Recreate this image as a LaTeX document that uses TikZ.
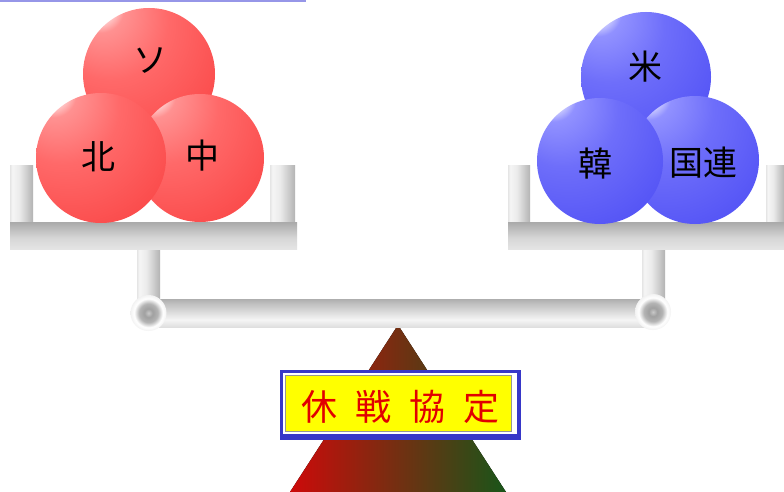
\documentclass[tikz,border=0pt]{standalone}
\usepackage{fontspec}
\newfontfamily\jp{Noto Sans CJK JP}

% greys for the metal parts
\definecolor{g110}{RGB}{110,110,110}
\definecolor{g120}{RGB}{120,120,120}
\definecolor{g130}{RGB}{130,130,130}
\definecolor{g140}{RGB}{140,140,140}
\definecolor{g150}{RGB}{150,150,150}
\definecolor{g160}{RGB}{160,160,160}
\definecolor{g170}{RGB}{170,170,170}
\definecolor{g180}{RGB}{180,180,180}
\definecolor{g190}{RGB}{190,190,190}
\definecolor{g200}{RGB}{200,200,200}
\definecolor{g215}{RGB}{215,215,215}
\definecolor{g235}{RGB}{235,235,235}
\definecolor{g240}{RGB}{240,240,240}
\definecolor{g245}{RGB}{245,245,245}
% ball colours
\definecolor{rA}{RGB}{255,232,232}
\definecolor{rB}{RGB}{255,145,145}
\definecolor{rC}{RGB}{255,105,105}
\definecolor{rD}{RGB}{250,70,70}
\definecolor{rE}{RGB}{240,38,38}
\definecolor{rF}{RGB}{225,22,22}
\definecolor{bA}{RGB}{232,232,255}
\definecolor{bB}{RGB}{145,145,255}
\definecolor{bC}{RGB}{110,110,250}
\definecolor{bD}{RGB}{80,80,245}
\definecolor{bE}{RGB}{52,52,235}
\definecolor{bF}{RGB}{38,38,215}
% fulcrum and plaque
\definecolor{fulL}{RGB}{205,10,10}
\definecolor{fulM}{RGB}{115,40,20}
\definecolor{fulR}{RGB}{25,85,25}
\definecolor{frameblue}{RGB}{55,55,200}
\definecolor{plaqueyellow}{RGB}{255,255,0}
\definecolor{plaquered}{RGB}{225,0,0}
\definecolor{topline}{RGB}{150,150,232}

\pgfdeclareradialshading{redball}{\pgfpoint{-21bp}{28bp}}{%
  color(0bp)=(white); color(3bp)=(white); color(5bp)=(rA); color(9bp)=(rB);
  color(22bp)=(rC); color(45bp)=(rD); color(62bp)=(rE); color(75bp)=(rF)}
\pgfdeclareradialshading{blueball}{\pgfpoint{-21bp}{28bp}}{%
  color(0bp)=(white); color(3bp)=(white); color(5bp)=(bA); color(9bp)=(bB);
  color(22bp)=(bC); color(45bp)=(bD); color(62bp)=(bE); color(75bp)=(bF)}
% colours listed from bottom to top
\pgfdeclareverticalshading{metalplate}{100bp}{%
  color(0bp)=(g170); color(15bp)=(g235); color(45bp)=(g215);
  color(88bp)=(g150); color(100bp)=(g130)}
\pgfdeclareverticalshading{metalbeam}{100bp}{%
  color(0bp)=(g160); color(12bp)=(g200); color(38bp)=(g245);
  color(68bp)=(g190); color(90bp)=(g140); color(100bp)=(g110)}
% colours listed from left to right
\pgfdeclarehorizontalshading{metalcyl}{100bp}{%
  color(0bp)=(g150); color(30bp)=(g245); color(45bp)=(g235);
  color(80bp)=(g170); color(100bp)=(g130)}
\pgfdeclareradialshading{jointball}{\pgfpoint{0bp}{0bp}}{%
  color(0bp)=(g200); color(6bp)=(g160); color(13bp)=(g180);
  color(20bp)=(white); color(26bp)=(g240); color(38bp)=(g180);
  color(50bp)=(g120)}

\tikzset{
  redsphere/.style={circle, inner sep=0pt, minimum size=#1, shading=redball},
  bluesphere/.style={circle, inner sep=0pt, minimum size=#1, shading=blueball},
  plate/.style={shading=metalplate},
  beam/.style={shading=metalbeam},
  post/.style={shading=metalcyl},
  joint/.style={circle, inner sep=0pt, minimum size=36pt, shading=jointball},
  balltext/.style={font=\jp\fontsize{34}{34}\selectfont, text=black, inner sep=0pt},
  plaquetext/.style={font=\jp\fontsize{36}{36}\selectfont, text=plaquered, inner sep=0pt}
}

\begin{document}
\begin{tikzpicture}[x=1pt, y=-1pt]
  \useasboundingbox (0,0) rectangle (784,492);
  \fill[white] (0,0) rectangle (784,492);
  \fill[topline] (0,0) rectangle (306,2.5);

  % fulcrum
  \fill[left color=fulL, middle color=fulM, right color=fulR]
    (398,325) -- (506,492) -- (290,492) -- cycle;

  % stems under the pans
  \fill[post] (137,247) rectangle (160,312);
  \fill[post] (642,247) rectangle (665,312);

  % beam and its end joints
  \fill[beam] (148,299) rectangle (653,327);
  \node[joint] (jl) at (148.5,313) {};
  \node[joint] (jr) at (653,312) {};

  % left pan
  \fill[post] (10,165) rectangle (33,223);
  \fill[post] (270,165) rectangle (295,223);
  \fill[plate] (10,222) rectangle (297,249);

  % right pan
  \fill[post] (508,165) rectangle (530,223);
  \fill[post] (766,165) rectangle (784,223);
  \fill[plate] (508,222) rectangle (784,249);

  % red balls, back to front
  \node[redsphere=132pt] (so) at (149,74) {};
  \node[redsphere=128pt] (chu) at (200,158) {};
  \node[redsphere=130pt] (hoku) at (101,158) {};
  \node[balltext] (tso) at (150,61) {ソ};
  \node[balltext] (thoku) at (98,157) {北};
  \node[balltext] (tchu) at (202,156) {中};

  % blue balls, back to front
  \node[bluesphere=130pt] (bei) at (646,77) {};
  \node[bluesphere=128pt] (kokuren) at (695,160) {};
  \node[bluesphere=126pt] (kan) at (600,161) {};
  \node[balltext] (tbei) at (645,67) {米};
  \node[balltext] (tkan) at (595,164) {韓};
  \node[balltext] (tkokuren) at (703,163) {国連};

  % plaque
  \fill[frameblue] (280,370) rectangle (521,439.5);
  \fill[white] (283,372.5) rectangle (516.5,434);
  \draw[fill=plaqueyellow, draw=g150, line width=0.6pt] (285.5,375.5) rectangle (511.5,431.5);
  \node[plaquetext] (truce) at (400,407)
    {休\kern18pt 戦\kern18pt 協\kern18pt 定};
\end{tikzpicture}
\end{document}
